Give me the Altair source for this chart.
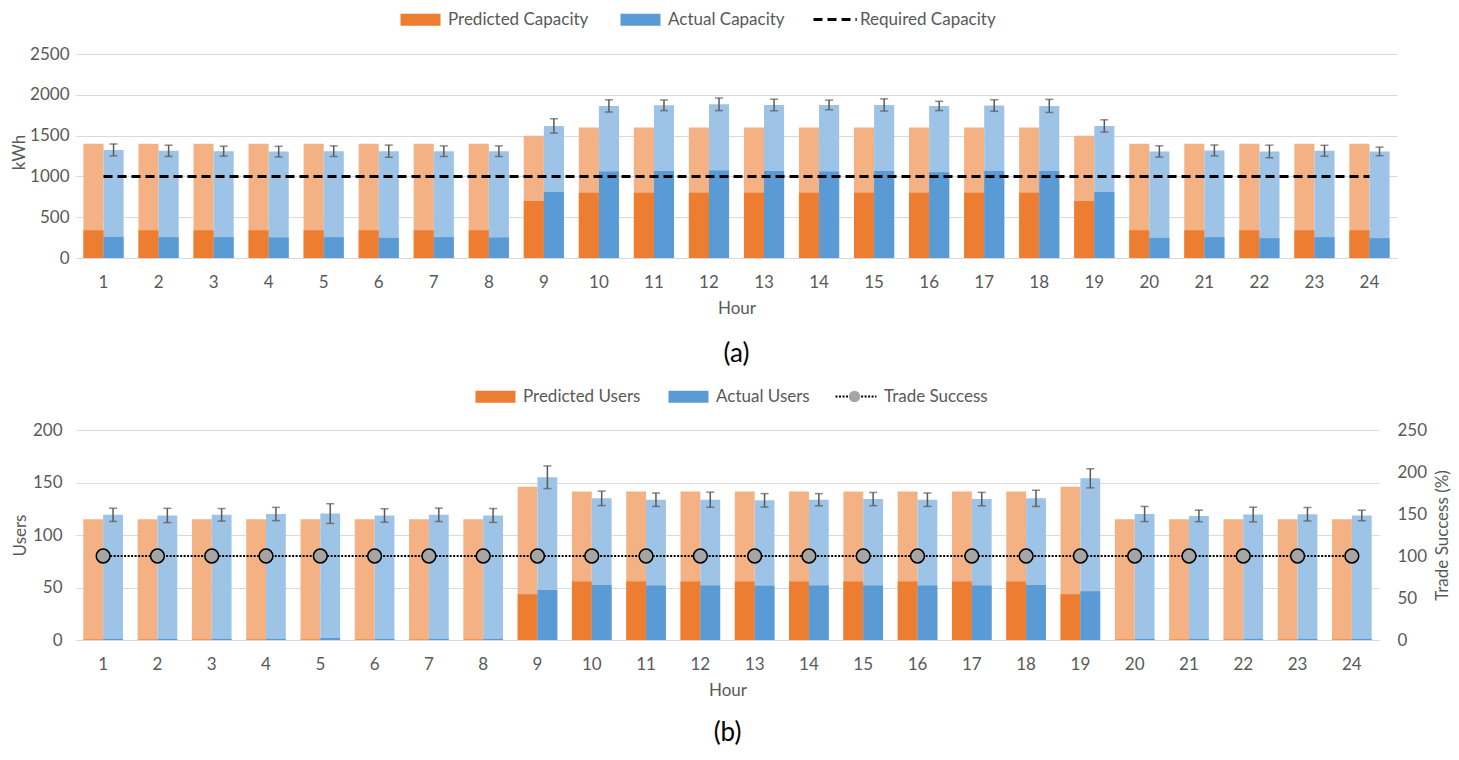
import altair as alt
import pandas as pd

hours = list(range(1, 25))

# ---- Panel (a): capacity (kWh) ----
pred_cap_total = [1400] * 8 + [1500] + [1600] * 9 + [1500] + [1400] * 5
pred_cap_part = [340] * 8 + [700] + [800] * 9 + [700] + [340] * 5
act_cap_total = [1325, 1315, 1310, 1305, 1310, 1310, 1310, 1310, 1620,
                 1865, 1873, 1885, 1877, 1877, 1877, 1865, 1870, 1865, 1620,
                 1307, 1319, 1307, 1315, 1307]
act_cap_part = [258, 255, 255, 252, 255, 247, 255, 252, 810,
                1060, 1068, 1072, 1068, 1060, 1068, 1052, 1068, 1068, 810,
                247, 255, 243, 255, 243]
act_cap_err = [73, 69, 61, 65, 65, 75, 65, 65, 88, 75, 65, 77, 71, 59, 75, 57,
               71, 80, 75, 69, 67, 77, 67, 53]
required_cap = [1000] * 24

# ---- Panel (b): users ----
pred_users_total = [115] * 8 + [146] + [141.5] * 9 + [146] + [115] * 5
pred_users_part = [0.5] * 8 + [43.5] + [55.7] * 9 + [43.5] + [0.5] * 5
act_users_total = [119.2, 118.6, 119.2, 120, 120.4, 118.6, 119.2, 118.6, 155,
                   134.9, 133.6, 133.6, 133, 133.6, 134.2, 133.6, 134.2, 134.9,
                   154, 120, 118.2, 119.5, 119.8, 118.6]
act_users_part = [1, 1, 1, 1, 2, 1, 1, 1, 47.7, 52.5, 51.9, 51.9, 51.6, 51.9,
                  51.9, 51.9, 51.9, 52.5, 46.5, 1, 1, 1, 1, 1]
act_users_err = [6.3, 6.8, 6.0, 6.3, 9.4, 6.4, 6.4, 6.6, 10.8, 6.9, 6.4, 7.2,
                 6.4, 5.8, 6.3, 6.4, 6.4, 7.7, 9.1, 7.2, 5.5, 7.0, 6.4, 5.0]
trade_success = [100] * 24

PC, AC, RC = "Predicted Capacity", "Actual Capacity", "Required Capacity"
PU, AU, TS = "Predicted Users", "Actual Users", "Trade Success"
TS_MARK = "Trade Success marker"

ORANGE, BLUE = "#ED7D31", "#5B9BD5"
L_ORANGE, L_BLUE = "#F4B183", "#9DC3E6"
FONT = "Lato"
GREY = "#595959"
RECT = "M-1,-1H5.667V1H-1Z"


def bars_df(pred_t, pred_p, act_t, act_p, act_e, pn, an):
    rows = []
    for i, h in enumerate(hours):
        rows.append(dict(hour=h, series=pn, total=pred_t[i], part=pred_p[i],
                         lo=None, hi=None))
        rows.append(dict(hour=h, series=an, total=act_t[i], part=act_p[i],
                         lo=act_t[i] - act_e[i], hi=act_t[i] + act_e[i]))
    return pd.DataFrame(rows)


cap_df = bars_df(pred_cap_total, pred_cap_part, act_cap_total, act_cap_part,
                 act_cap_err, PC, AC)
usr_df = bars_df(pred_users_total, pred_users_part, act_users_total,
                 act_users_part, act_users_err, PU, AU)
req_df = pd.DataFrame(dict(hour=hours, value=required_cap, series=[RC] * 24))
ts_df = pd.DataFrame(dict(hour=hours, value=trade_success, series=[TS] * 24,
                          marker=[TS_MARK] * 24))

x_scale = alt.Scale(paddingInner=0.27, paddingOuter=0.135)


def x_enc():
    return alt.X("hour:O", scale=x_scale,
                 axis=alt.Axis(title="Hour", labelAngle=0, grid=False,
                               domain=True, domainColor="#D9D9D9",
                               labelPadding=16, titlePadding=10))


def leg(lx, ly, **kw):
    base = dict(title=None, orient="none", legendX=lx, legendY=ly,
                direction="horizontal", labelFont=FONT, labelFontSize=17,
                labelColor=GREY, symbolOpacity=1)
    base.update(kw)
    return alt.Legend(**base)


# ---------------- Panel (a) ----------------
off_a = alt.XOffset("series:N", scale=alt.Scale(domain=[PC, AC], paddingInner=0,
                                                 paddingOuter=0))
y_a = alt.Y("total:Q", scale=alt.Scale(domain=[0, 2500]),
            axis=alt.Axis(title="kWh", values=[0, 500, 1000, 1500, 2000, 2500],
                          format="d", domain=False, grid=True,
                          labelPadding=7, titlePadding=1))

light_a = alt.Chart(cap_df).mark_bar().encode(
    x=x_enc(), xOffset=off_a, y=y_a,
    color=alt.Color("series:N", scale=alt.Scale(domain=[PC, AC],
                                                range=[L_ORANGE, L_BLUE]),
                    legend=None))
dark_a = alt.Chart(cap_df).mark_bar().encode(
    x=x_enc(), xOffset=off_a, y=alt.Y("part:Q"),
    color=alt.Color("series:N",
                    scale=alt.Scale(domain=[PC, AC], range=[ORANGE, BLUE]),
                    legend=leg(322, -35, symbolType=RECT, symbolSize=144,
                               labelOffset=33, symbolStrokeWidth=0,
                               columnPadding=29)))
err_a = alt.Chart(cap_df).transform_filter(alt.datum.series == AC)
err_rule_a = err_a.mark_rule(color=GREY, strokeWidth=1.5).encode(
    x=x_enc(), xOffset=off_a, y="lo:Q", y2="hi:Q")
err_lo_a = err_a.mark_tick(color=GREY, thickness=1.5, size=8).encode(
    x=x_enc(), xOffset=off_a, y="lo:Q")
err_hi_a = err_a.mark_tick(color=GREY, thickness=1.5, size=8).encode(
    x=x_enc(), xOffset=off_a, y="hi:Q")
req_line = alt.Chart(req_df).mark_line(color="#000000", strokeWidth=3).encode(
    x=x_enc(), y="value:Q",
    strokeDash=alt.StrokeDash(
        "series:N", scale=alt.Scale(domain=[RC], range=[[9, 5]]),
        legend=leg(735, -35, symbolType="M-1,0H6.2", symbolSize=144,
                   labelOffset=32, symbolStrokeColor="#000000",
                   symbolStrokeWidth=3)))

panel_a = alt.layer(
    light_a,
    alt.layer(dark_a, err_rule_a, err_lo_a, err_hi_a, req_line),
).resolve_scale(color="independent").properties(
    width=1321, height=212,
    title=alt.TitleParams("(a)", orient="bottom", anchor="middle", font=FONT,
                          fontSize=26, fontWeight="normal", color="#000000",
                          offset=25))

# ---------------- Panel (b) ----------------
off_b = alt.XOffset("series:N", scale=alt.Scale(domain=[PU, AU], paddingInner=0,
                                                 paddingOuter=0))
ydom_b = alt.Scale(domain=[0, 200])

light_b = alt.Chart(usr_df).mark_bar().encode(
    x=x_enc(), xOffset=off_b,
    y=alt.Y("total:Q", scale=ydom_b,
            axis=alt.Axis(title="Users", orient="left",
                          values=[0, 50, 100, 150, 200], domain=False,
                          grid=True, labelPadding=14, titlePadding=3)),
    color=alt.Color("series:N", scale=alt.Scale(domain=[PU, AU],
                                                range=[L_ORANGE, L_BLUE]),
                    legend=None))
dark_b = alt.Chart(usr_df).mark_bar().encode(
    x=x_enc(), xOffset=off_b,
    y=alt.Y("part:Q", scale=ydom_b, axis=None),
    color=alt.Color("series:N",
                    scale=alt.Scale(domain=[PU, AU], range=[ORANGE, BLUE]),
                    legend=leg(397, -42, symbolType=RECT, symbolSize=144,
                               labelOffset=33, symbolStrokeWidth=0,
                               columnPadding=25)))
err_b = alt.Chart(usr_df).transform_filter(alt.datum.series == AU)
err_rule_b = err_b.mark_rule(color=GREY, strokeWidth=1.5).encode(
    x=x_enc(), xOffset=off_b, y=alt.Y("lo:Q", scale=ydom_b, axis=None),
    y2="hi:Q")
err_lo_b = err_b.mark_tick(color=GREY, thickness=1.5, size=8).encode(
    x=x_enc(), xOffset=off_b, y=alt.Y("lo:Q", scale=ydom_b, axis=None))
err_hi_b = err_b.mark_tick(color=GREY, thickness=1.5, size=8).encode(
    x=x_enc(), xOffset=off_b, y=alt.Y("hi:Q", scale=ydom_b, axis=None))

ts_scale = alt.Scale(domain=[0, 250])
ts_line = alt.Chart(ts_df).mark_line(color="#000000", strokeWidth=2).encode(
    x=x_enc(),
    y=alt.Y("value:Q", scale=ts_scale,
            axis=alt.Axis(title="Trade Success (%)", orient="right",
                          values=[0, 50, 100, 150, 200, 250], domain=False,
                          grid=False, labelPadding=18, titlePadding=8,
                          titleAngle=270, titleBaseline="top")),
    strokeDash=alt.StrokeDash(
        "series:N", scale=alt.Scale(domain=[TS], range=[[2, 1.5]]),
        legend=leg(757, -42, symbolType="M-1,0H1.4M3.27,0H5.83",
                   symbolSize=144, labelOffset=34,
                   symbolStrokeColor="#000000", symbolStrokeWidth=2)))
ts_pts = alt.Chart(ts_df).mark_point(filled=True, fill="#A5A5A5",
                                     stroke="#000000", strokeWidth=1.5,
                                     size=190, opacity=1).encode(
    x=x_enc(),
    y=alt.Y("value:Q", scale=ts_scale, axis=None),
    shape=alt.Shape("marker:N",
                    scale=alt.Scale(domain=[TS_MARK], range=["circle"]),
                    legend=leg(770, -42, symbolType="circle", symbolSize=130,
                               labelExpr="''", labelOffset=0,
                               symbolFillColor="#A5A5A5",
                               symbolStrokeColor="#000000",
                               symbolStrokeWidth=1.5)))

panel_b = alt.layer(
    light_b,
    alt.layer(dark_b, err_rule_b, err_lo_b, err_hi_b, ts_line, ts_pts)
    .resolve_scale(y="independent"),
).resolve_scale(color="independent", y="independent").properties(
    width=1303, height=210,
    title=alt.TitleParams("(b)", orient="bottom", anchor="middle", font=FONT,
                          fontSize=26, fontWeight="normal", color="#000000",
                          offset=22))

chart = alt.vconcat(panel_a, panel_b, spacing=21).resolve_scale(
    color="independent", x="independent", y="independent",
    xOffset="independent", shape="independent", strokeDash="independent",
).properties(padding={"left": 2, "top": 3, "right": 0, "bottom": 0}).configure_axis(
    labelFont=FONT, labelFontSize=17, labelColor=GREY, titleFont=FONT,
    titleFontSize=17, titleColor=GREY, titleFontWeight="normal",
    gridColor="#D9D9D9", ticks=False,
).configure_view(stroke=None)

chart.save("out.html", embed_options={"renderer": "svg", "actions": False})
